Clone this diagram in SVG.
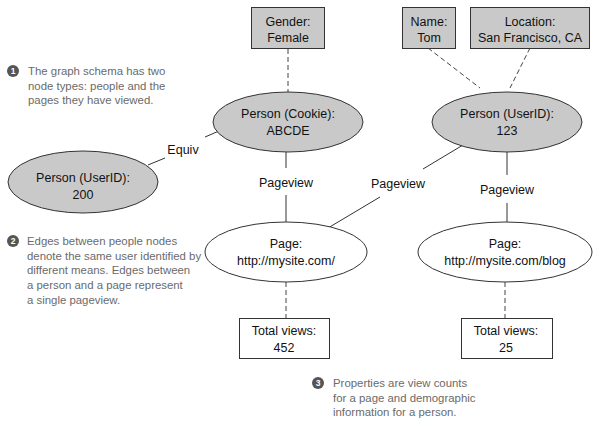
<svg xmlns="http://www.w3.org/2000/svg" width="600" height="428" viewBox="0 0 600 428">
<style>
.n{font-family:"Liberation Sans",Arial,sans-serif;font-size:12.5px;fill:#111;text-anchor:middle}
.a{font-family:"Liberation Sans",Arial,sans-serif;font-size:11.4px;fill:#6a6a6a}
.num{font-family:"Liberation Sans",Arial,sans-serif;font-size:8.5px;font-weight:bold;fill:#fff;text-anchor:middle}
.g{fill:#c9c9c9;stroke:#333;stroke-width:1}
.w{fill:#fff;stroke:#333;stroke-width:1}
.e{stroke:#333;stroke-width:1;fill:none}
.d{stroke:#444;stroke-width:1;fill:none;stroke-dasharray:5,3}
.c{fill:#555}
</style>
<rect width="600" height="428" fill="#fff"/>
<g id="connectors">
<line class="d" x1="288" y1="49" x2="288" y2="92"/>
<line class="d" x1="428" y1="48" x2="480" y2="88"/>
<line class="d" x1="530" y1="48" x2="510" y2="88"/>
<line class="d" x1="286" y1="282" x2="286" y2="318"/>
<line class="d" x1="505" y1="282" x2="505" y2="318"/>
<line class="e" x1="148" y1="165" x2="165" y2="158"/>
<line class="e" x1="205" y1="137" x2="219" y2="131"/>
<text class="n" x="183" y="154">Equiv</text>
<line class="e" x1="286" y1="152" x2="286" y2="168"/>
<line class="e" x1="286" y1="195" x2="286" y2="222"/>
<text class="n" x="286" y="187">Pageview</text>
<line class="e" x1="328" y1="228" x2="380" y2="197"/>
<line class="e" x1="423" y1="169" x2="463" y2="145"/>
<text class="n" x="398" y="188">Pageview</text>
<line class="e" x1="507" y1="152" x2="507" y2="175"/>
<line class="e" x1="507" y1="203" x2="507" y2="222"/>
<text class="n" x="507" y="194">Pageview</text>
</g>
<g id="gender">
<rect class="g" x="251.5" y="7.5" width="73" height="41"/>
<text class="n" x="288" y="26">Gender:</text>
<text class="n" x="288" y="42">Female</text>
</g>
<g id="name">
<rect class="g" x="402.5" y="7.5" width="53" height="41"/>
<text class="n" x="429" y="26">Name:</text>
<text class="n" x="429" y="42">Tom</text>
</g>
<g id="location">
<rect class="g" x="470.5" y="7.5" width="119" height="41"/>
<text class="n" x="530" y="26">Location:</text>
<text class="n" x="530" y="42">San Francisco, CA</text>
</g>
<g id="cookie">
<ellipse class="g" cx="288" cy="122" rx="75" ry="30"/>
<text class="n" x="288" y="118">Person (Cookie):</text>
<text class="n" x="288" y="135">ABCDE</text>
</g>
<g id="user123">
<ellipse class="g" cx="507" cy="122" rx="75" ry="30"/>
<text class="n" x="507" y="118">Person (UserID):</text>
<text class="n" x="507" y="135">123</text>
</g>
<g id="user200">
<ellipse class="g" cx="83" cy="182" rx="75" ry="31"/>
<text class="n" x="83" y="182">Person (UserID):</text>
<text class="n" x="83" y="199">200</text>
</g>
<g id="page1">
<ellipse class="w" cx="286" cy="252" rx="81" ry="30"/>
<text class="n" x="286" y="248">Page:</text>
<text class="n" x="286" y="265">http://mysite.com/</text>
</g>
<g id="page2">
<ellipse class="w" cx="505" cy="252" rx="87" ry="30"/>
<text class="n" x="505" y="248">Page:</text>
<text class="n" x="505" y="265">http://mysite.com/blog</text>
</g>
<g id="views1">
<rect class="w" x="239.5" y="318.5" width="90" height="40"/>
<text class="n" x="284" y="335">Total views:</text>
<text class="n" x="284" y="352">452</text>
</g>
<g id="views2">
<rect class="w" x="461.5" y="318.5" width="91" height="40"/>
<text class="n" x="506" y="335">Total views:</text>
<text class="n" x="506" y="352">25</text>
</g>
<g id="note1">
<circle class="c" cx="13" cy="71" r="6"/>
<text class="num" x="13" y="74">1</text>
<text class="a" x="28" y="75">The graph schema has two</text>
<text class="a" x="28" y="89.5">node types: people and the</text>
<text class="a" x="28" y="104">pages they have viewed.</text>
</g>
<g id="note2">
<circle class="c" cx="13" cy="241" r="6"/>
<text class="num" x="13" y="244">2</text>
<text class="a" x="27" y="245">Edges between people nodes</text>
<text class="a" x="27" y="259.7">denote the same user identified by</text>
<text class="a" x="27" y="274.4">different means. Edges between</text>
<text class="a" x="27" y="289.1">a person and a page represent</text>
<text class="a" x="27" y="303.8">a single pageview.</text>
</g>
<g id="note3">
<circle class="c" cx="318" cy="383" r="6"/>
<text class="num" x="318" y="386">3</text>
<text class="a" x="333" y="387">Properties are view counts</text>
<text class="a" x="333" y="401.7">for a page and demographic</text>
<text class="a" x="333" y="416.4">information for a person.</text>
</g>
</svg>
